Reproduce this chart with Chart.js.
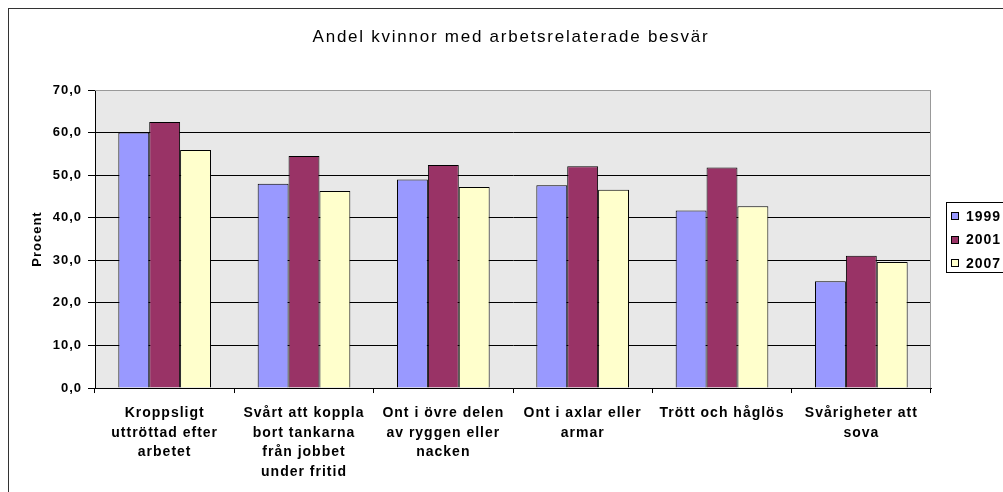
<!DOCTYPE html>
<html>
<head>
<meta charset="utf-8">
<script src="https://cdn.jsdelivr.net/npm/chart.js@4"></script>
<style>
  html, body { margin: 0; padding: 0; background: #fff; }
  #wrap { width: 1003px; height: 492px; }
</style>
</head>
<body>
<div id="wrap"><canvas id="chart"></canvas></div>
<script>
// DATA
var title = 'Andel kvinnor med arbetsrelaterade besvär'
var categories = [
  ['Kroppsligt', 'uttröttad efter', 'arbetet'],
  ['Svårt att koppla', 'bort tankarna', 'från jobbet', 'under fritid'],
  ['Ont i övre delen', 'av ryggen eller', 'nacken'],
  ['Ont i axlar eller', 'armar'],
  ['Trött och håglös'],
  ['Svårigheter att', 'sova']
]
var years = ['1999', '2001', '2007']
var values1999 = [60.0, 48.0, 49.0, 47.6, 41.7, 25.1]
var values2001 = [62.5, 54.5, 52.4, 52.1, 51.8, 31.1]
var values2007 = [55.9, 46.3, 47.2, 46.6, 42.7, 29.6]
var yTicks = [0, 10, 20, 30, 40, 50, 60, 70]

// COLORS
var lilac = '#9999FF'
var plum = '#993366'
var cream = '#FFFFCC'
var plotGrey = '#E8E8E8'
var font = "'Liberation Sans', Arial, sans-serif"

function comma (v) { return v.toFixed(1).replace('.', ',') }

// letter spacing, the reference text is set loosely
var spacing = {
  id: 'spacing',
  beforeUpdate: function (chart) { chart.ctx.letterSpacing = '1px' },
  beforeDraw: function (chart) { chart.ctx.letterSpacing = '1px' }
}

// grey plot area, outer frame, title
var frame = {
  id: 'frame',
  beforeDraw: function (chart) {
    var ctx = chart.ctx, a = chart.chartArea
    ctx.save()
    ctx.fillStyle = plotGrey
    ctx.fillRect(a.left, a.top, a.right - a.left, a.bottom - a.top)
    ctx.strokeStyle = '#333'
    ctx.lineWidth = 1
    ctx.strokeRect(8.5, 8.5, 1200, 800)
    ctx.letterSpacing = '1.75px'
    ctx.fillStyle = '#000'
    ctx.font = '17px ' + font
    ctx.textAlign = 'center'
    ctx.textBaseline = 'middle'
    ctx.fillText(title, 511, 37)
    ctx.restore()
  },
  afterDatasetsDraw: function (chart) {
    var ctx = chart.ctx, a = chart.chartArea
    ctx.save()
    ctx.strokeStyle = '#999'
    ctx.lineWidth = 1
    ctx.beginPath()
    ctx.moveTo(a.left, a.top + 0.5)
    ctx.lineTo(a.right - 0.5, a.top + 0.5)
    ctx.lineTo(a.right - 0.5, a.bottom)
    ctx.stroke()
    ctx.restore()
  }
}

// boxed legend on the right
var boxLegend = {
  id: 'boxLegend',
  afterDraw: function (chart) {
    var ctx = chart.ctx
    var x = 946.5, y = 202.5
    ctx.save()
    ctx.letterSpacing = '1px'
    ctx.fillStyle = '#fff'
    ctx.fillRect(x, y, 80, 70)
    ctx.strokeStyle = '#000'
    ctx.lineWidth = 1
    ctx.strokeRect(x, y, 80, 70)
    ctx.font = 'bold 14px ' + font
    ctx.textBaseline = 'middle'
    chart.data.datasets.forEach(function (ds, i) {
      var cy = 216 + i * 23.5
      ctx.fillStyle = ds.backgroundColor
      ctx.fillRect(951.5, Math.round(cy) - 3.5, 7, 7)
      ctx.strokeRect(951.5, Math.round(cy) - 3.5, 7, 7)
      ctx.fillStyle = '#000'
      ctx.fillText(ds.label, 966, cy + 1)
    })
    ctx.restore()
  }
}

function bars (label, data, color) {
  return {
    label: label,
    data: data,
    backgroundColor: color,
    borderColor: '#000',
    borderWidth: 1,
    barPercentage: 1,
    categoryPercentage: 0.665
  }
}

var chart = new Chart(document.getElementById('chart'), {
  type: 'bar',
  data: {
    labels: categories,
    datasets: [
      bars(years[0], values1999, lilac),
      bars(years[1], values2001, plum),
      bars(years[2], values2007, cream)
    ]
  },
  plugins: [spacing, frame, boxLegend],
  options: {
    responsive: true,
    maintainAspectRatio: false,
    animation: false,
    layout: { padding: { left: 20, right: 72, top: 90, bottom: 0 } },
    plugins: {
      legend: { display: false },
      tooltip: { enabled: false },
      title: { display: false }
    },
    scales: {
      x: {
        offset: true,
        border: { display: true, color: '#000', width: 1 },
        grid: { display: true, offset: true, drawOnChartArea: false, drawTicks: true, tickLength: 5, color: '#000' },
        ticks: {
          color: '#000',
          maxRotation: 0,
          minRotation: 0,
          autoSkip: false,
          padding: 10,
          font: { family: font, size: 14, weight: 'bold', lineHeight: 1.41 }
        }
      },
      y: {
        min: 0,
        max: 70,
        afterFit: function (s) { s.width = 75 },
        afterBuildTicks: function (s) { s.ticks = yTicks.map(function (v) { return { value: v } }) },
        border: { display: true, color: '#000', width: 1 },
        grid: {
          color: function (c) { return c.tick && c.tick.value === 70 ? '#999' : '#000' },
          tickColor: '#000',
          tickLength: 7
        },
        ticks: {
          color: '#000',
          padding: 6,
          font: { family: font, size: 13, weight: 'bold' },
          callback: function (v) { return comma(v) }
        },
        title: {
          display: true,
          text: 'Procent',
          color: '#000',
          padding: { top: 10, bottom: 0 },
          font: { family: font, size: 13, weight: 'bold', lineHeight: 1.2 }
        }
      }
    }
  }
})
</script>
</body>
</html>
